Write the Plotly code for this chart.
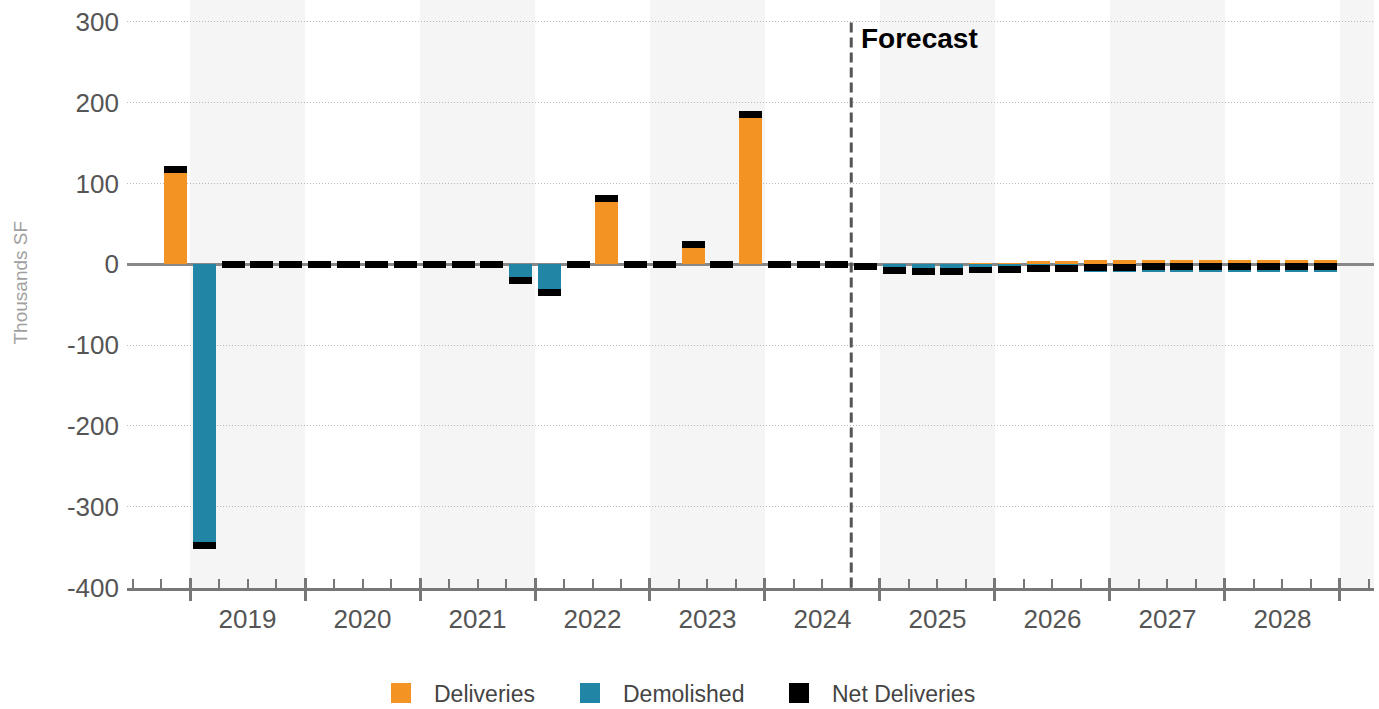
import plotly.graph_objects as go

# Quarterly deliveries / demolitions (thousands SF)
quarters = [
    "2018 Q4",
    "2019 Q1", "2019 Q2", "2019 Q3", "2019 Q4",
    "2020 Q1", "2020 Q2", "2020 Q3", "2020 Q4",
    "2021 Q1", "2021 Q2", "2021 Q3", "2021 Q4",
    "2022 Q1", "2022 Q2", "2022 Q3", "2022 Q4",
    "2023 Q1", "2023 Q2", "2023 Q3", "2023 Q4",
    "2024 Q1", "2024 Q2", "2024 Q3", "2024 Q4",
    "2025 Q1", "2025 Q2", "2025 Q3", "2025 Q4",
    "2026 Q1", "2026 Q2", "2026 Q3", "2026 Q4",
    "2027 Q1", "2027 Q2", "2027 Q3", "2027 Q4",
    "2028 Q1", "2028 Q2", "2028 Q3", "2028 Q4",
]
deliveries = [
    117,
    0, 0, 0, 0,
    0, 0, 0, 0,
    0, 0, 0, 0,
    0, 0, 82, 0,
    0, 24, 0, 185,
    0, 0, 0, 0,
    0, 0, 0, 1,
    2, 4, 4, 5,
    5, 6, 6, 6,
    6, 6, 6, 6,
]
demolished = [
    0,
    -348, 0, 0, 0,
    0, 0, 0, 0,
    0, 0, 0, -20,
    -35, 0, 0, 0,
    0, 0, 0, 0,
    0, 0, 0, -3,
    -8, -9, -9, -8,
    -8, -9, -9, -9,
    -9, -9, -9, -9,
    -9, -9, -9, -9,
]
net_deliveries = [
    117,
    -348, 0, 0, 0,
    0, 0, 0, 0,
    0, 0, 0, -20,
    -35, 0, 82, 0,
    0, 24, 0, 185,
    0, 0, 0, -3,
    -8, -9, -9, -7,
    -6, -5, -5, -4,
    -4, -3, -3, -3,
    -3, -3, -3, -3,
]
forecast_start = "2024 Q4"
year_labels = ["2019", "2020", "2021", "2022", "2023", "2024", "2025", "2026", "2027", "2028"]
y_ticks = [-400, -300, -200, -100, 0, 100, 200, 300]
y_tick_text = ["-400", "-300", "-200", "-100", "0", "100", "200", "300"]

ORANGE = "#F39323"
TEAL = "#2186A6"
BLACK = "#000000"
AXIS_GREY = "#777777"
TEXT_GREY = "#555555"
FONT = "Liberation Sans, Arial, sans-serif"

BAR_W = 0.2          # in years (quarter = 0.25)
NET_THICK = 8.6      # thickness of the net-deliveries dash, in data units
X_RANGE = [2018.452, 2029.296]
Y_RANGE = [-400.6, 327.2]
PLOT_LEFT, PLOT_W = 127, 1247


def quarter_pos(label):
    yr, q = label.split(" Q")
    return int(yr) + (int(q) - 0.5) / 4


x = [quarter_pos(q) for q in quarters]
years = [int(y) for y in year_labels]

fig = go.Figure()

fig.add_trace(go.Bar(x=x, y=deliveries, width=BAR_W, marker_color=ORANGE,
                     marker_line_width=0, showlegend=False, name="Deliveries"))
fig.add_trace(go.Bar(x=x, y=demolished, width=BAR_W, marker_color=TEAL,
                     marker_line_width=0, showlegend=False, name="Demolished"))
fig.add_trace(go.Bar(x=x, y=[NET_THICK] * len(net_deliveries),
                     base=[v - NET_THICK / 2 for v in net_deliveries],
                     width=BAR_W, marker_color=BLACK, marker_line_width=0,
                     showlegend=False, name="Net Deliveries"))

# legend entries (square swatches), one legend box per entry
legend_items = [("Deliveries", ORANGE, "x2", "legend", 368),
                ("Demolished", TEAL, "x3", "legend2", 557),
                ("Net Deliveries", BLACK, "x2", "legend3", 766)]
for name, col, xa, lg, _ in legend_items:
    fig.add_trace(go.Scatter(x=[None], y=[None], mode="markers", name=name,
                             xaxis=xa, legend=lg,
                             marker=dict(symbol="square", size=16, color=col,
                                         line=dict(color=col, width=4))))

# alternating year shading
shade_years = [y for y in years if (y - years[0]) % 2 == 0] + [years[-1] + 1]
for y0 in shade_years:
    fig.add_shape(type="rect", xref="x", yref="paper",
                  x0=y0, x1=min(y0 + 1, X_RANGE[1]), y0=0, y1=1,
                  fillcolor="#f5f5f5", line_width=0, layer="below")

# forecast divider
fx = quarter_pos(forecast_start) - 0.125
fig.add_shape(type="line", xref="x", yref="y", x0=fx, x1=fx,
              y0=y_ticks[0], y1=y_ticks[-1],
              line=dict(color="#555555", width=3, dash="10px,5px"))
fig.add_annotation(x=fx, y=y_ticks[-1], xref="x", yref="y", text="<b>Forecast</b>",
                   showarrow=False, xanchor="left", yanchor="middle",
                   xshift=8, yshift=-17,
                   font=dict(family=FONT, size=28, color="#000000"))

# y-axis title
fig.add_annotation(x=-0.0858, y=0.5196, xref="paper", yref="paper",
                   text="Thousands SF", textangle=-90, showarrow=False,
                   xanchor="center", yanchor="middle",
                   font=dict(family=FONT, size=19, color="#a0a0a0"))

quarter_bounds = [round((X_RANGE[0] + 0.048 + 0.25 * k) * 4) / 4 for k in range(0, 44)]
minor_vals = [b for b in quarter_bounds if b != int(b) and X_RANGE[0] < b < X_RANGE[1]]
major_vals = years + [years[-1] + 1]

legend_common = dict(orientation="h", xanchor="left", y=-0.1786, yanchor="middle",
                     font=dict(family=FONT, size=23, color="#444444"),
                     itemwidth=56, bgcolor="rgba(0,0,0,0)")
legends = {}
for _, _, _, lg, left_px in legend_items:
    legends[lg] = dict(legend_common, x=(left_px - PLOT_LEFT) / PLOT_W)

fig.update_layout(
    width=1379, height=709,
    margin=dict(l=PLOT_LEFT, r=1379 - PLOT_LEFT - PLOT_W, t=0, b=121,
                autoexpand=False),
    paper_bgcolor="white", plot_bgcolor="white",
    barmode="overlay", bargap=0,
    font=dict(family=FONT, color=TEXT_GREY),
    xaxis=dict(
        range=X_RANGE, tickmode="array",
        tickvals=[y + 0.5 for y in years], ticktext=year_labels,
        ticks="", showgrid=False, zeroline=False,
        showline=True, linewidth=3, linecolor=AXIS_GREY,
        tickfont=dict(family=FONT, size=26, color=TEXT_GREY),
        ticklabelstandoff=6,
        minor=dict(tickmode="array", tickvals=minor_vals, ticks="inside",
                   ticklen=9, tickwidth=2, tickcolor=AXIS_GREY, showgrid=False),
    ),
    xaxis2=dict(
        range=X_RANGE, overlaying="x", anchor="y", side="bottom",
        tickmode="array", tickvals=major_vals, ticks="outside",
        ticklen=12, tickwidth=3, tickcolor=AXIS_GREY,
        showticklabels=False, showgrid=False, zeroline=False, showline=False,
    ),
    xaxis3=dict(
        range=X_RANGE, overlaying="x", anchor="y", side="bottom",
        tickmode="array", tickvals=major_vals, ticks="inside",
        ticklen=10, tickwidth=3, tickcolor=AXIS_GREY,
        showticklabels=False, showgrid=False, zeroline=False, showline=False,
    ),
    yaxis=dict(
        range=Y_RANGE, tickmode="array", tickvals=y_ticks, ticktext=y_tick_text,
        ticks="", ticklabelstandoff=7,
        tickfont=dict(family=FONT, size=26, color=TEXT_GREY),
        showgrid=True, gridcolor="#b8b8b8", gridwidth=1, griddash="1px,2px",
        zeroline=True, zerolinecolor="#888888", zerolinewidth=3,
        showline=False,
    ),
    **legends,
)

fig.write_html("out.html")
